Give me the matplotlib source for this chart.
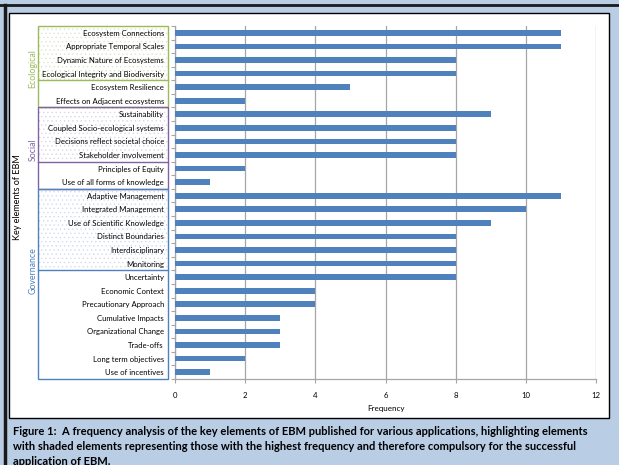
import matplotlib
matplotlib.use("Agg")
import matplotlib.pyplot as plt
import matplotlib.patches as mpatches
import matplotlib.transforms as mtransforms
import numpy as np

plt.rcParams['font.family'] = ['Lato', 'DejaVu Sans']
plt.rcParams['hatch.linewidth'] = 0.5

# -------------------------
# dados
# -------------------------
elementos = [
    "Ecosystem Connections", "Appropriate Temporal Scales",
    "Dynamic Nature of Ecosystems", "Ecological Integrity and Biodiversity",
    "Ecosystem Resilience", "Effects on Adjacent ecosystems",
    "Sustainability", "Coupled Socio-ecological systems",
    "Decisions reflect societal choice", "Stakeholder involvement",
    "Principles of Equity", "Use of all forms of knowledge",
    "Adaptive Management", "Integrated Management",
    "Use of Scientific Knowledge", "Distinct Boundaries",
    "Interdisciplinary", "Monitoring", "Uncertainty", "Economic Context",
    "Precautionary Approach", "Cumulative Impacts", "Organizational Change",
    "Trade-offs", "Long term objectives", "Use of incentives",
]
frequencia = [11, 11, 8, 8, 5, 2, 9, 8, 8, 8, 2, 1,
              11, 10, 9, 8, 8, 8, 8, 4, 4, 3, 3, 3, 2, 1]

# grupos: (nome, primeiro, ultimo, ultimo sombreado, cor, cor do pontilhado, posicao do rotulo)
grupos = [
    ("Ecological", 0, 5, 3, "#9bbb59", "#dde8c8", 2.6),
    ("Social", 6, 11, 9, "#8064a2", "#ddd5e8", 8.6),
    ("Governance", 12, 25, 17, "#4f81bd", "#d0dcee", 17.5),
]

legenda = [
    "Figure 1:  A frequency analysis of the key elements of EBM published for various applications, highlighting elements",
    "with shaded elements representing those with the highest frequency and therefore compulsory for the successful",
    "application of EBM.",
]

# -------------------------
# figura
# -------------------------
W, H = 619, 465
fig = plt.figure(figsize=(W / 100, H / 100), dpi=100)
fig.patch.set_facecolor("#b9cde5")

# painel branco e bordas
fig.patches.append(mpatches.Rectangle((9 / W, 1 - 418 / H), 600 / W, 405 / H,
                                      transform=fig.transFigure, facecolor="white",
                                      edgecolor="black", lw=1.0, zorder=0))
fig.add_artist(plt.Line2D([0, 1], [1 - 5 / H] * 2, color="#1a1a1a", lw=2.0,
                          transform=fig.transFigure))
fig.add_artist(plt.Line2D([4.5 / W] * 2, [0, 1 - 5 / H], color="#1a1a1a", lw=2.5,
                          transform=fig.transFigure))

ax = fig.add_axes([175 / W, 1 - 379 / H, (596 - 175) / W, (379 - 26) / H])
ax.set_facecolor("none")
ax.set_zorder(3)

y = np.arange(len(elementos))
ax.barh(y, frequencia, height=0.42, color="#4f81bd", zorder=3)

ax.set_xlim(0, 12)
ax.set_ylim(len(elementos) - 0.5, -0.5)
ax.set_xticks(np.arange(0, 13, 2))
ax.xaxis.grid(True, color="#a6a6a6", lw=0.9)
ax.set_axisbelow(True)

ax.set_yticks(y)
ax.set_yticklabels(elementos, fontsize=5.6)
ax.set_yticks(np.arange(-0.5, len(elementos), 1), minor=True)
ax.tick_params(axis="y", which="major", length=0, pad=8)
ax.tick_params(axis="y", which="minor", length=3, color="#a6a6a6", width=0.8)
ax.tick_params(axis="x", length=3, color="#a6a6a6", width=0.8, labelsize=5.6, pad=6)

for lado in ["top", "right"]:
    ax.spines[lado].set_visible(False)
ax.spines["left"].set_color("#a6a6a6")
ax.spines["bottom"].set_color("#a6a6a6")
ax.spines["left"].set_linewidth(0.9)
ax.spines["bottom"].set_linewidth(0.9)

ax.set_xlabel("Frequency", fontsize=5.8, labelpad=5)

# caixas dos grupos
trans = mtransforms.blended_transform_factory(fig.transFigure, ax.transData)
x0, x1 = 38 / W, 168 / W
for nome, ini, fim, somb, cor, cor_pont, ypos in grupos:
    ax.add_patch(mpatches.Rectangle((x0, ini - 0.5), x1 - x0, somb - ini + 1,
                                    transform=trans, facecolor="none", hatch="....",
                                    edgecolor=cor_pont, lw=0, clip_on=False, zorder=0.1))
    ax.add_patch(mpatches.Rectangle((x0, ini - 0.5), x1 - x0, fim - ini + 1,
                                    transform=trans, facecolor="none",
                                    edgecolor=cor, lw=1.0, clip_on=False, zorder=2))
    ax.add_line(plt.Line2D([x0, x1], [somb + 0.5] * 2, color=cor, lw=1.0,
                           transform=trans, clip_on=False))
    ax.text(33 / W, ypos, nome, transform=trans, rotation=90, color=cor,
            fontsize=6.3, ha="center", va="center")

fig.text(18 / W, 1 - 197 / H, "Key elements of EBM", rotation=90, fontsize=6.5,
         ha="center", va="center", color="black")

for i, linha in enumerate(legenda):
    fig.text(13 / W, 1 - (431 + 15 * i) / H, linha, fontsize=8.0, fontweight="bold",
             ha="left", va="center")

fig.savefig("out.png", dpi=100, facecolor=fig.get_facecolor())
